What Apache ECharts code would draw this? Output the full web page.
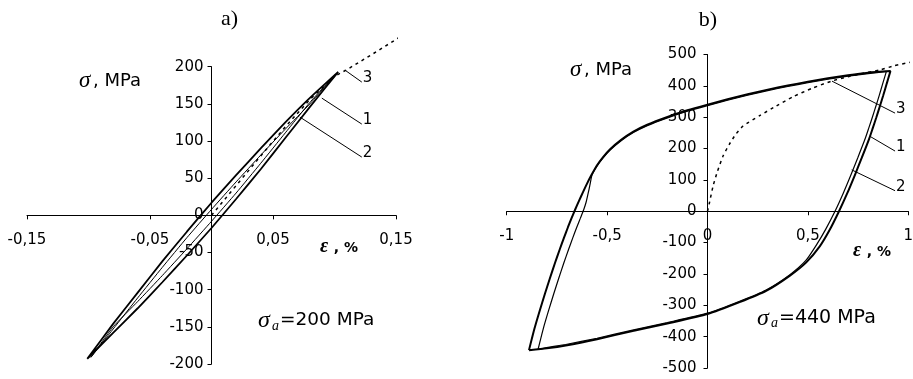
<!DOCTYPE html>
<html><head><meta charset="utf-8">
<script src="https://cdn.jsdelivr.net/npm/echarts@6/dist/echarts.min.js"></script>
<style>html,body{margin:0;padding:0;background:#fff}#c{width:913px;height:379px}</style>
</head><body><div id="c"></div>
<script>
// ---- Panel a): strain (%) vs stress (MPa), sigma_a = 200 MPa ----
const leftXRange = [-0.15, 0.15];
const leftYRange = [-200, 200];
const leftLoop1 = [[-0.101,-193],[-0.08,-146],[-0.06,-104],[-0.04,-62],[-0.02,-22],[0,17],[0.02,54],[0.04,90],[0.06,125],[0.08,158],[0.103,193],
  [0.08,146],[0.06,104],[0.04,62],[0.02,22],[0,-17],[-0.02,-54],[-0.04,-90],[-0.06,-125],[-0.08,-158],[-0.101,-193]];
const leftLoop2 = [[-0.098,-191],[-0.08,-153],[-0.06,-111],[-0.04,-70],[-0.02,-30],[0,8],[0.02,45],[0.04,81],[0.06,116],[0.08,150],[0.101,190],
  [0.08,152],[0.06,111],[0.04,70],[0.02,30],[0,-8],[-0.02,-45],[-0.04,-81],[-0.06,-116],[-0.08,-150],[-0.098,-191]];
const leftCurve3 = [[0,0],[0.02,40],[0.04,80],[0.06,119],[0.08,156],[0.1,187],[0.11,196],[0.13,216],[0.16,247]];
const leftLeaders = [
  {name:'3', from:[0.1084,195.5], to:[0.1222,179.3]},
  {name:'1', from:[0.0897,157.7], to:[0.1222,122.8]},
  {name:'2', from:[0.0718,132.3], to:[0.1222,78.4]}
];

// ---- Panel b): sigma_a = 440 MPa ----
const rightXRange = [-1, 1];
const rightYRange = [-500, 500];
const rightLoop1 = [[-0.889,-443],[-0.862,-375],[-0.836,-318],[-0.81,-264],[-0.786,-216],[-0.76,-166],[-0.736,-122],[-0.715,-85],[-0.695,-51],[-0.677,-22],[-0.66,4],[-0.64,33],[-0.62,61],[-0.6,88],[-0.58,113],[-0.551,146],[-0.52,173],[-0.485,198],[-0.43,228],[-0.369,254],[-0.3,276],[-0.203,300],[-0.1,322],[0,340],[0.1,357],[0.2,373],[0.3,388],[0.4,401],[0.5,413],[0.6,424],[0.7,434],[0.8,442],[0.911,447],
  [0.893,408],[0.875,369],[0.858,334],[0.841,300],[0.823,265],[0.805,231],[0.768,170],[0.733,114],[0.695,56],[0.655,0],[0.608,-60],[0.559,-112],[0.492,-163],[0.409,-206],[0.292,-254],[0.16,-290],[0,-328],[-0.2,-358],[-0.373,-382],[-0.55,-408],[-0.706,-428],[-0.8,-437],[-0.889,-443]];
const rightLoop2 = [[-0.844,-441],[-0.818,-375],[-0.792,-318],[-0.766,-264],[-0.742,-216],[-0.716,-166],[-0.692,-122],[-0.671,-85],[-0.651,-51],[-0.633,-22],[-0.617,4],[-0.605,28],[-0.597,50],[-0.59,70],[-0.583,92],[-0.575,116],[-0.551,143],[-0.52,170],[-0.485,195],[-0.43,225],[-0.369,251],[-0.3,273],[-0.203,297],[-0.1,319],[0,337],[0.1,354],[0.2,370],[0.3,385],[0.4,398],[0.5,410],[0.6,421],[0.7,431],[0.8,439],[0.891,446],
  [0.873,408],[0.855,369],[0.838,334],[0.821,300],[0.803,265],[0.785,231],[0.748,170],[0.713,114],[0.675,56],[0.635,0],[0.589,-57],[0.545,-105],[0.49,-157],[0.409,-203],[0.292,-251],[0.16,-287],[0,-325],[-0.2,-355],[-0.373,-379],[-0.55,-405],[-0.706,-425],[-0.8,-435],[-0.844,-441]];
const rightCurve3 = [[0,0],[0.01,28],[0.028,81],[0.05,128],[0.078,177],[0.11,215],[0.14,245],[0.177,272],[0.26,305],[0.343,336],[0.425,365],[0.52,392],[0.617,415],[0.7,429],[0.76,438],[0.86,451],[0.93,464],[1.007,475]];
const rightLeaders = [
  {name:'3', from:[0.620,415], to:[0.934,313]},
  {name:'1', from:[0.809,239], to:[0.934,192]},
  {name:'2', from:[0.718,132], to:[0.934,65.5]}
];

const SANS = 'DejaVu Sans';
const SERIF = 'Liberation Serif';
const fmt = v => String(+(+v).toFixed(2)).replace('.', ',');

const grids = [
  {left:27, top:66.7, width:369, height:297.3},
  {left:506.7, top:54.5, width:401.6, height:313.5}
];

function xAxis(gi, range, interval) {
  const g = grids[gi];
  return {
    type:'value', gridIndex:gi, min:range[0], max:range[1], interval:interval,
    position:'bottom', offset: -g.height * (0 - range[0]) / (range[1] - range[0]),
    splitLine:{show:false},
    axisLine:{onZero:false, lineStyle:{color:'#000', width:1}},
    axisTick:{length:4, lineStyle:{color:'#000'}},
    axisLabel:{formatter:fmt, color:'#000', fontFamily:SANS, fontSize:15, margin:17}
  };
}
function yAxis(gi, range, interval, xrange, margin) {
  const g = grids[gi];
  return {
    type:'value', gridIndex:gi, min:range[0], max:range[1], interval:interval,
    position:'left', offset: -g.width * (0 - xrange[0]) / (xrange[1] - xrange[0]),
    splitLine:{show:false},
    axisLine:{onZero:false, lineStyle:{color:'#000', width:1}},
    axisTick:{length:4, lineStyle:{color:'#000'}},
    axisLabel:{formatter:fmt, color:'#000', fontFamily:SANS, fontSize:15, margin:margin}
  };
}
function curve(gi, data, width, dashed, smooth) {
  return {
    type:'line', xAxisIndex:gi, yAxisIndex:gi, data:data, showSymbol:false, symbol:'none',
    clip:false, smooth:smooth || false, silent:true,
    lineStyle:{color:'#000', width:width, type: dashed ? [3,4] : 'solid'}
  };
}
function leader(gi, l) {
  return {
    type:'line', xAxisIndex:gi, yAxisIndex:gi, clip:false, silent:true,
    symbol:'none', showSymbol:false,
    lineStyle:{color:'#000', width:1},
    data:[l.from, l.to],
    endLabel:{show:true, formatter:l.name, distance:1, offset:[0,-4],
      color:'#000', fontFamily:SANS, fontSize:15}
  };
}

function txt(text, x, y, o) {
  return {type:'text', silent:true, style:Object.assign({
    text:text, x:x, y:y, fill:'#000', fontFamily:SANS, fontSize:18,
    align:'left', verticalAlign:'middle'}, o||{})};
}

const chart = echarts.init(document.getElementById('c'), null, {renderer:'canvas'});
chart.setOption({
  animation:false,
  backgroundColor:'#fff',
  grid: grids.map(g => Object.assign({outerBoundsMode:'none', containLabel:false}, g)),
  xAxis:[xAxis(0, leftXRange, 0.1), xAxis(1, rightXRange, 0.5)],
  yAxis:[yAxis(0, leftYRange, 50, leftXRange, 8), yAxis(1, rightYRange, 100, rightXRange, 11)],
  series:[
    curve(0, leftLoop1, 1.8, false, 0.15),
    curve(0, leftLoop2, 1, false, 0.15),
    curve(0, leftCurve3, 1.5, true),
    ...leftLeaders.map(l => leader(0, l)),
    curve(1, rightLoop1, 2, false, 0.2),
    curve(1, rightLoop2, 1.2, false, 0.2),
    curve(1, rightCurve3, 1.5, true, 0.2),
    ...rightLeaders.map(l => leader(1, l))
  ],
  graphic:[
    txt('a)', 229.5, 19, {fontFamily:SERIF, fontSize:22, align:'center'}),
    txt('b)', 708, 20, {fontFamily:SERIF, fontSize:22, align:'center'}),
    txt('σ', 79, 81, {fontFamily:SERIF, fontStyle:'italic', fontSize:23}),
    txt(', MPa', 93, 81, {fontSize:18}),
    txt('σ', 570, 70, {fontFamily:SERIF, fontStyle:'italic', fontSize:23}),
    txt(', MPa', 584, 70, {fontSize:18}),
    txt('ε', 320, 247, {fontFamily:SERIF, fontStyle:'italic', fontWeight:'bold', fontSize:20}),
    txt(' , %', 329, 248, {fontWeight:'bold', fontSize:14}),
    txt('ε', 853, 251, {fontFamily:SERIF, fontStyle:'italic', fontWeight:'bold', fontSize:20}),
    txt(' , %', 862, 252, {fontWeight:'bold', fontSize:14}),
    txt('σ', 258, 321, {fontFamily:SERIF, fontStyle:'italic', fontSize:24}),
    txt('a', 272, 326, {fontFamily:SERIF, fontStyle:'italic', fontSize:14}),
    txt('=200 MPa', 280, 320.5, {fontSize:18.5}),
    txt('σ', 757, 318.5, {fontFamily:SERIF, fontStyle:'italic', fontSize:24}),
    txt('a', 771, 323.5, {fontFamily:SERIF, fontStyle:'italic', fontSize:14}),
    txt('=440 MPa', 779, 318, {fontSize:19})
  ]
});
</script>
</body></html>
